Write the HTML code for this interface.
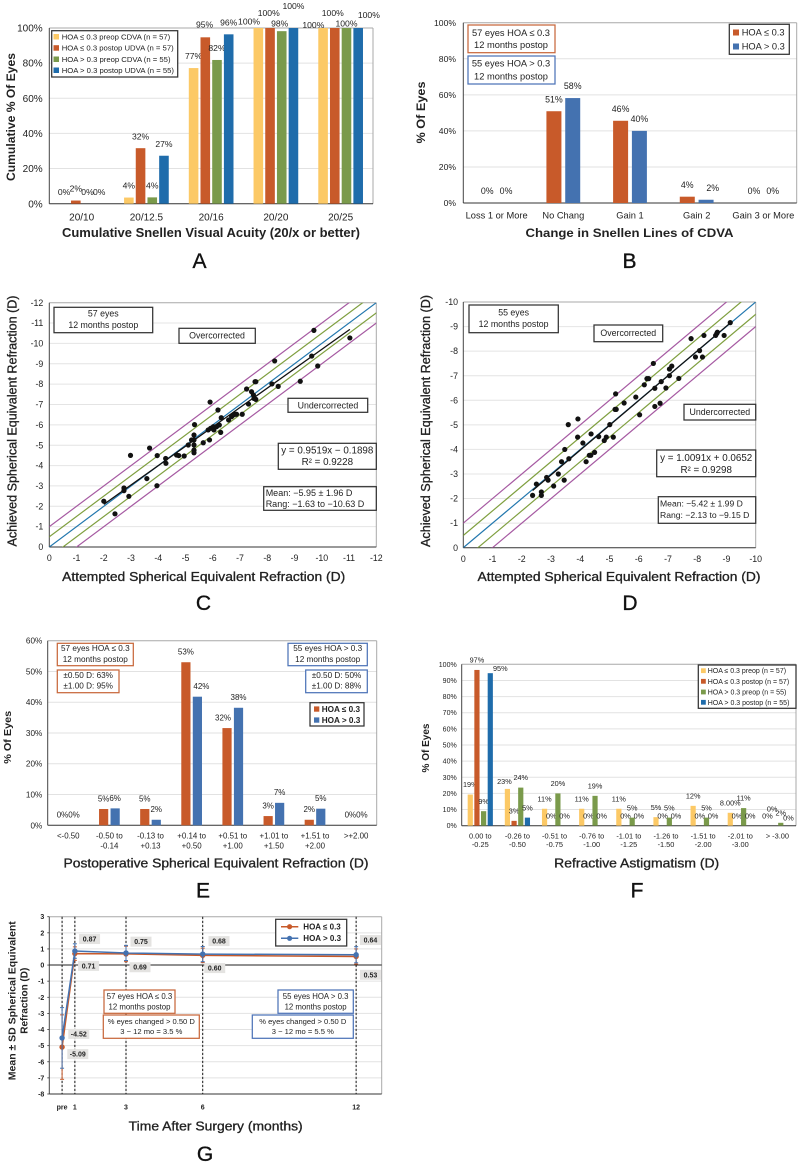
<!DOCTYPE html>
<html lang="en">
<head>
<meta charset="utf-8">
<title>Refractive outcomes by HOA group</title>
<style>
html,body{margin:0;padding:0;background:#fff}
svg{display:block;filter:blur(.3px)}
text{font-family:"Liberation Sans",sans-serif;fill:#222}
.bold{font-weight:700}
.mid{stroke:#222;stroke-width:.32}
.letter{font-size:21px;text-anchor:middle;stroke:#111;stroke-width:.35;fill:#111}
.mid-a{text-anchor:middle}
.box{fill:#fff;stroke-width:1.25}
.k{stroke:#333}.o{stroke:#c8683c}.b{stroke:#4e74b8}
</style>
</head>
<body>
<svg id="figure" xmlns="http://www.w3.org/2000/svg" width="800" height="1164" viewBox="0 0 800 1164">
  <rect width="800" height="1164" fill="#fff"/>

  <!-- A -->
  <g id="chart-a"></g>
  <g>
    <rect class="box k" x="51.7" y="30.7" width="126" height="46.3"/>
    <rect x="53.5" y="34" width="5.5" height="5.5" fill="#fcc966"/>
    <text x="61.7" y="39.4" font-size="7.7">HOA ≤ 0.3 preop CDVA (n = 57)</text>
    <rect x="53.5" y="45.2" width="5.5" height="5.5" fill="#c85a2a"/>
    <text x="61.7" y="50.7" font-size="7.7">HOA ≤ 0.3 postop UDVA (n = 57)</text>
    <rect x="53.5" y="56.5" width="5.5" height="5.5" fill="#7a9a4b"/>
    <text x="61.7" y="62" font-size="7.7">HOA &gt; 0.3 preop CDVA (n = 55)</text>
    <rect x="53.5" y="67.5" width="5.5" height="5.5" fill="#1f6cab"/>
    <text x="61.7" y="73" font-size="7.7">HOA &gt; 0.3 postop UDVA (n = 55)</text>
  </g>
  <text class="bold mid-a" x="211" y="237" font-size="12.5" textLength="298" lengthAdjust="spacingAndGlyphs">Cumulative Snellen Visual Acuity (20/x or better)</text>
  <text class="bold mid-a" transform="translate(15,117) rotate(-90)" font-size="12" textLength="128" lengthAdjust="spacingAndGlyphs">Cumulative % Of Eyes</text>
  <text class="letter" x="199.5" y="268">A</text>

  <!-- B -->
  <g id="chart-b"></g>
  <g>
    <rect class="box o" x="468" y="25" width="87" height="27.7"/>
    <text class="mid-a" x="511" y="36" font-size="9.3">57 eyes HOA ≤ 0.3</text>
    <text class="mid-a" x="511" y="48.2" font-size="9.3">12 months postop</text>
    <rect class="box b" x="468" y="56" width="87" height="28"/>
    <text class="mid-a" x="511" y="66.6" font-size="9.3">55 eyes HOA &gt; 0.3</text>
    <text class="mid-a" x="511" y="79.3" font-size="9.3">12 months postop</text>
    <rect class="box k" x="729.3" y="24.3" width="60" height="30"/>
    <rect x="733" y="29.5" width="6" height="6" fill="#c85a2a"/>
    <text x="741.7" y="35.6" font-size="9.3">HOA ≤ 0.3</text>
    <rect x="733" y="43.5" width="6" height="6" fill="#4472b0"/>
    <text x="741.7" y="49.6" font-size="9.3">HOA &gt; 0.3</text>
  </g>
  <text class="bold mid-a" x="629.5" y="237" font-size="12" textLength="208" lengthAdjust="spacingAndGlyphs">Change in Snellen Lines of CDVA</text>
  <text class="bold mid-a" transform="translate(425,112.5) rotate(-90)" font-size="12" textLength="62" lengthAdjust="spacingAndGlyphs">% Of Eyes</text>
  <text class="letter" x="629.5" y="268">B</text>

  <!-- C -->
  <g id="chart-c"></g>
  <g>
    <rect class="box k" x="54" y="307.3" width="98.7" height="25.4"/>
    <text class="mid-a" x="103.3" y="316.7" font-size="8.8">57 eyes</text>
    <text class="mid-a" x="103.3" y="328" font-size="8.8">12 months postop</text>
    <rect class="box k" x="179" y="328.3" width="76.3" height="15"/>
    <text class="mid-a" x="217" y="338.4" font-size="8.8">Overcorrected</text>
    <rect class="box k" x="288" y="398.3" width="79.7" height="14"/>
    <text class="mid-a" x="328" y="408.3" font-size="8.8">Undercorrected</text>
    <rect class="box k" x="278.3" y="443.3" width="98" height="26"/>
    <text class="mid-a" x="327.3" y="453.5" font-size="9.8">y = 0.9519x − 0.1898</text>
    <text class="mid-a" x="327.3" y="465.2" font-size="9.8">R² = 0.9228</text>
    <rect class="box k" x="263.7" y="486.7" width="112.6" height="23.6"/>
    <text x="265.7" y="496" font-size="9">Mean: −5.95 ± 1.96 D</text>
    <text x="265.7" y="507.2" font-size="9">Rang: −1.63 to −10.63 D</text>
  </g>
  <text class="mid mid-a" x="203.7" y="581" font-size="13" textLength="283" lengthAdjust="spacingAndGlyphs">Attempted Spherical Equivalent Refraction (D)</text>
  <text class="mid mid-a" transform="translate(16.5,421) rotate(-90)" font-size="13" textLength="251" lengthAdjust="spacingAndGlyphs">Achieved Spherical Equivalent Refraction (D)</text>
  <text class="letter" x="203.5" y="610">C</text>

  <!-- D -->
  <g id="chart-d"></g>
  <g>
    <rect class="box k" x="469" y="305" width="89.3" height="27.7"/>
    <text class="mid-a" x="513.6" y="315.7" font-size="8.8">55 eyes</text>
    <text class="mid-a" x="513.6" y="327" font-size="8.8">12 months postop</text>
    <rect class="box k" x="594" y="325" width="68.7" height="16.7"/>
    <text class="mid-a" x="628.3" y="335.8" font-size="8.8">Overcorrected</text>
    <rect class="box k" x="684" y="404.3" width="71.7" height="15.7"/>
    <text class="mid-a" x="719.8" y="414.8" font-size="8.8">Undercorrected</text>
    <rect class="box k" x="656.7" y="450" width="99" height="26.7"/>
    <text class="mid-a" x="706.2" y="461" font-size="9.8">y = 1.0091x + 0.0652</text>
    <text class="mid-a" x="706.2" y="472.8" font-size="9.8">R² = 0.9298</text>
    <rect class="box k" x="658.3" y="496.7" width="97.4" height="26.6"/>
    <text x="660" y="506.5" font-size="8.6">Mean: −5.42 ± 1.99 D</text>
    <text x="660" y="518.2" font-size="8.6">Rang: −2.13 to −9.15 D</text>
  </g>
  <text class="mid mid-a" x="619" y="581" font-size="13" textLength="283" lengthAdjust="spacingAndGlyphs">Attempted Spherical Equivalent Refraction (D)</text>
  <text class="mid mid-a" transform="translate(429.8,421) rotate(-90)" font-size="13" textLength="252" lengthAdjust="spacingAndGlyphs">Achieved Spherical Equivalent Refraction (D)</text>
  <text class="letter" x="630" y="610">D</text>

  <!-- E -->
  <g id="chart-e"></g>
  <g>
    <rect class="box o" x="57.3" y="643.3" width="76" height="22.4"/>
    <text class="mid-a" x="95.3" y="651.2" font-size="8.2">57 eyes HOA ≤ 0.3</text>
    <text class="mid-a" x="95.3" y="661.9" font-size="8.2">12 months postop</text>
    <rect class="box o" x="57.3" y="670" width="61.7" height="22.7"/>
    <text class="mid-a" x="88.2" y="677.9" font-size="8.2">±0.50 D: 63%</text>
    <text class="mid-a" x="88.2" y="688.6" font-size="8.2">±1.00 D: 95%</text>
    <rect class="box b" x="288" y="643.3" width="79.3" height="22.4"/>
    <text class="mid-a" x="327.7" y="651.2" font-size="8.2">55 eyes HOA &gt; 0.3</text>
    <text class="mid-a" x="327.7" y="661.9" font-size="8.2">12 months postop</text>
    <rect class="box b" x="305.7" y="670" width="61.6" height="22.7"/>
    <text class="mid-a" x="336.5" y="677.9" font-size="8.2">±0.50 D: 50%</text>
    <text class="mid-a" x="336.5" y="688.6" font-size="8.2">±1.00 D: 88%</text>
    <rect class="box k" x="310" y="702.7" width="54" height="23.3"/>
    <rect x="314" y="706.4" width="5.3" height="5.3" fill="#c85a2a"/>
    <text class="bold" x="321.7" y="712" font-size="8.2">HOA ≤ 0.3</text>
    <rect x="314" y="717.4" width="5.3" height="5.3" fill="#4472b0"/>
    <text class="bold" x="321.7" y="723" font-size="8.2">HOA &gt; 0.3</text>
  </g>
  <text class="mid mid-a" x="216" y="867.3" font-size="13" textLength="305" lengthAdjust="spacingAndGlyphs">Postoperative Spherical Equivalent Refraction (D)</text>
  <text class="bold mid-a" transform="translate(11,737.3) rotate(-90)" font-size="10.5" textLength="53" lengthAdjust="spacingAndGlyphs">% Of Eyes</text>
  <text class="letter" x="203" y="897.5">E</text>

  <!-- F -->
  <g id="chart-f"></g>
  <g>
    <rect class="box k" x="698.3" y="665" width="97.7" height="43.3"/>
    <rect x="701" y="668.3" width="4.8" height="4.8" fill="#fcc966"/>
    <text x="707.7" y="673.2" font-size="7">HOA ≤ 0.3 preop (n = 57)</text>
    <rect x="701" y="678.9" width="4.8" height="4.8" fill="#c85a2a"/>
    <text x="707.7" y="683.8" font-size="7">HOA ≤ 0.3 postop (n = 57)</text>
    <rect x="701" y="689.6" width="4.8" height="4.8" fill="#7a9a4b"/>
    <text x="707.7" y="694.5" font-size="7">HOA &gt; 0.3 preop (n = 55)</text>
    <rect x="701" y="699.9" width="4.8" height="4.8" fill="#1f6cab"/>
    <text x="707.7" y="704.8" font-size="7">HOA &gt; 0.3 postop (n = 55)</text>
  </g>
  <text class="mid mid-a" x="636.7" y="867.3" font-size="13" textLength="165" lengthAdjust="spacingAndGlyphs">Refractive Astigmatism (D)</text>
  <text class="bold mid-a" transform="translate(428.8,748) rotate(-90)" font-size="10" textLength="49" lengthAdjust="spacingAndGlyphs">% Of Eyes</text>
  <text class="letter" x="637" y="897.5">F</text>

  <!-- G -->
  <g id="chart-g"></g>
  <g>
    <rect class="box k" x="275.7" y="919.3" width="71" height="26.7"/>
    <line x1="281" y1="926.7" x2="298.3" y2="926.7" stroke="#c85a2a" stroke-width="1.5"/>
    <circle cx="289.6" cy="926.7" r="2.6" fill="#c85a2a"/>
    <text class="bold" x="303.3" y="929.6" font-size="8">HOA ≤ 0.3</text>
    <line x1="281" y1="938.3" x2="298.3" y2="938.3" stroke="#4472b0" stroke-width="1.5"/>
    <circle cx="289.6" cy="938.3" r="2.6" fill="#4472b0"/>
    <text class="bold" x="303.3" y="941.2" font-size="8">HOA &gt; 0.3</text>
    <rect class="box o" x="104" y="990" width="71" height="23.3"/>
    <text class="mid-a" x="139.5" y="998.9" font-size="7.8">57 eyes HOA ≤ 0.3</text>
    <text class="mid-a" x="139.5" y="1009.5" font-size="7.8">12 months postop</text>
    <rect class="box o" x="103.3" y="1015" width="96" height="23.3"/>
    <text class="mid-a" x="151.3" y="1023.8" font-size="7.6">% eyes changed &gt; 0.50 D</text>
    <text class="mid-a" x="151.3" y="1033.8" font-size="7.6">3 − 12 mo = 3.5 %</text>
    <rect class="box b" x="278" y="990" width="75.3" height="23.3"/>
    <text class="mid-a" x="315.6" y="998.9" font-size="7.8">55 eyes HOA &gt; 0.3</text>
    <text class="mid-a" x="315.6" y="1009.5" font-size="7.8">12 months postop</text>
    <rect class="box b" x="252.3" y="1015" width="101" height="23.3"/>
    <text class="mid-a" x="302.8" y="1023.8" font-size="7.6">% eyes changed &gt; 0.50 D</text>
    <text class="mid-a" x="302.8" y="1033.8" font-size="7.6">3 − 12 mo = 5.5 %</text>
  </g>
  <text class="mid mid-a" x="215.7" y="1130.7" font-size="13" textLength="174" lengthAdjust="spacingAndGlyphs">Time After Surgery (months)</text>
  <text class="bold mid-a" transform="translate(15.5,1000.7) rotate(-90)" font-size="10" textLength="159" lengthAdjust="spacingAndGlyphs">Mean ± SD Spherical Equivalent</text>
  <text class="bold mid-a" transform="translate(27.5,1000.7) rotate(-90)" font-size="10" textLength="66" lengthAdjust="spacingAndGlyphs">Refraction (D)</text>
  <text class="letter" x="205" y="1161">G</text>
</svg>

<script>
// ---------- Chart A data ----------
const acuityCategories = ['20/10', '20/12.5', '20/16', '20/20', '20/25'];
const acuityLowPreop = [0, 3.5, 77.2, 100, 100];
const acuityLowPostop = [1.8, 31.6, 94.7, 100, 100];
const acuityHighPreop = [0, 3.6, 81.8, 98.2, 100];
const acuityHighPostop = [0, 27.3, 96.4, 100, 100];
const acuityTicks = [0, 20, 40, 60, 80, 100];

// ---------- Chart B data ----------
const linesCategories = ['Loss 1 or More', 'No Chang', 'Gain 1', 'Gain 2', 'Gain 3 or More'];
const linesLow = [0, 50.9, 45.6, 3.5, 0];
const linesHigh = [0, 58.2, 40, 1.8, 0];
const linesTicks = [0, 20, 40, 60, 80, 100];

// ---------- Chart C data (attempted / achieved, D) ----------
const attemptedC = [-2.0,-2.41,-2.74,-2.74,-2.92,-2.98,-3.58,-3.68,-3.95,-3.96,-4.27,-4.28,-4.67,-4.75,-4.95,-5.10,-5.22,-5.31,-5.31,-5.31,-5.31,-5.31,-5.33,-5.65,-5.83,-5.88,-5.90,-5.92,-6.02,-6.04,-6.14,-6.19,-6.24,-6.29,-6.31,-6.58,-6.69,-6.75,-6.81,-6.87,-7.08,-7.24,-7.31,-7.42,-7.49,-7.51,-7.55,-7.58,-7.58,-8.17,-8.27,-8.40,-9.21,-9.63,-9.71,-9.85,-11.03];
const achievedC = [-2.25,-1.63,-2.77,-2.90,-2.49,-4.50,-3.36,-4.86,-3.01,-4.49,-4.35,-4.11,-4.52,-4.49,-4.47,-5.01,-5.26,-5.26,-5.50,-5.01,-4.76,-4.63,-6.01,-5.12,-5.75,-5.26,-7.12,-5.83,-5.91,-5.75,-5.91,-6.73,-5.99,-5.63,-6.35,-6.24,-6.40,-6.48,-6.52,-6.52,-6.52,-7.76,-7.02,-7.63,-7.47,-7.30,-8.12,-8.12,-7.25,-8.01,-9.14,-7.89,-8.14,-9.38,-10.64,-8.89,-10.27];
const fitC = [0.9519, -0.1898];
const axisTicksC = [0,-1,-2,-3,-4,-5,-6,-7,-8,-9,-10,-11,-12];

// ---------- Chart D data ----------
const attemptedD = [-2.37,-2.50,-2.67,-2.67,-2.85,-2.90,-3.09,-3.25,-3.36,-3.45,-3.47,-3.61,-3.59,-3.91,-3.92,-4.09,-4.20,-4.31,-4.36,-4.37,-4.49,-4.63,-4.82,-4.89,-5.01,-5.13,-5.19,-5.23,-5.21,-5.50,-5.90,-6.03,-6.19,-6.28,-6.34,-6.55,-6.55,-6.50,-6.73,-6.77,-6.93,-7.05,-7.05,-7.13,-7.37,-7.79,-7.94,-8.08,-8.18,-8.23,-8.63,-8.67,-8.69,-8.92,-9.13];
const achievedD = [-2.13,-2.59,-2.27,-2.13,-2.86,-2.75,-2.51,-3.00,-3.50,-2.75,-4.00,-3.62,-5.01,-4.50,-5.24,-4.26,-3.50,-3.76,-3.76,-4.63,-3.88,-4.52,-4.36,-4.50,-5.01,-4.50,-5.63,-5.63,-6.26,-5.89,-6.13,-5.41,-6.63,-6.88,-6.88,-6.49,-5.75,-7.50,-5.88,-6.76,-6.50,-7.00,-7.27,-7.39,-6.89,-8.51,-7.76,-8.02,-7.76,-8.64,-8.64,-8.72,-8.77,-8.64,-9.16];
const fitD = [1.0091, 0.0652];
const axisTicksD = [0,-1,-2,-3,-4,-5,-6,-7,-8,-9,-10];

// ---------- Chart E data ----------
const seCategories = ['<-0.50', '-0.50 to|-0.14', '-0.13 to|+0.13', '+0.14 to|+0.50', '+0.51 to|+1.00', '+1.01 to|+1.50', '+1.51 to|+2.00', '>+2.00'];
const seLow = [0, 5.3, 5.3, 53, 31.6, 3, 1.8, 0];
const seHigh = [0, 5.5, 1.8, 41.8, 38.2, 7.3, 5.4, 0];
const seTicks = [0, 10, 20, 30, 40, 50, 60];

// ---------- Chart F data ----------
const astigCategories = ['0.00 to|-0.25', '-0.26 to|-0.50', '-0.51 to|-0.75', '-0.76 to|-1.00', '-1.01 to|-1.25', '-1.26 to|-1.50', '-1.51 to|-2.00', '-2.01 to|-3.00', '> -3.00'];
const astigLowPreop = [19.3, 22.8, 10.5, 10.5, 10.5, 5.3, 12.3, 8, 0];
const astigLowPostop = [96.5, 3, 0, 0, 0, 0, 0, 0, 0];
const astigHighPreop = [9, 23.6, 20, 18.5, 5, 5, 5, 10.9, 1.8];
const astigHighPostop = [94.5, 5, 0, 0, 0, 0, 0, 0, 0];
const astigLowPreopPrinted = ['19%', '23%', '11%', '11%', '11%', '5%', '12%', '8.00%', '0%'];
const astigTicks = [0, 10, 20, 30, 40, 50, 60, 70, 80, 90, 100];

// ---------- Chart G data ----------
const visitMonths = [0.5, 1, 3, 6, 12];
const visitLabels = ['pre', '1', '3', '6', '12'];
const meanLow = [-5.09, 0.71, 0.69, 0.60, 0.53];
const meanHigh = [-4.52, 0.87, 0.75, 0.68, 0.64];
const sdLow = [2.0, 0.42, 0.48, 0.45, 0.47];
const sdHigh = [1.88, 0.45, 0.47, 0.47, 0.5];
const refractionTicks = [3, 2, 1, 0, -1, -2, -3, -4, -5, -6, -7, -8];

// ---------- Drawing ----------
const NS = 'http://www.w3.org/2000/svg';
const COL = {yellow:'#fcc966', orange:'#c85a2a', green:'#7a9a4b', blueA:'#1f6cab', blueB:'#4472b0'};

function add(parent, tag, attrs, name, content) {
  const el = document.createElementNS(NS, tag);
  for (const k in attrs) el.setAttribute(k, attrs[k]);
  
  
  if (content !== undefined) el.textContent = content;
  parent.appendChild(el);
  return el;
}

function frame(g, p, suffix) {
  add(g, 'line', {x1:p.l, y1:p.t, x2:p.r, y2:p.t, stroke:'#a8a8a8', 'stroke-width':1}, 'plot-top-border-' + suffix);
  add(g, 'line', {x1:p.r, y1:p.t, x2:p.r, y2:p.b, stroke:'#a8a8a8', 'stroke-width':1}, 'plot-right-border-' + suffix);
  add(g, 'line', {x1:p.l, y1:p.t, x2:p.l, y2:p.b, stroke:'#444', 'stroke-width':1}, 'y-axis-line-' + suffix);
  add(g, 'line', {x1:p.l, y1:p.b, x2:p.r, y2:p.b, stroke:'#333', 'stroke-width':1}, 'x-axis-line-' + suffix);
}

function drawBars(c) {
  const g = document.getElementById(c.id), p = c.plot;
  const yScale = v => p.b - v / c.max * (p.b - p.t);
  const groupW = (p.r - p.l) / c.categories.length;
  const xScale = i => p.l + groupW * (i + 0.5);
  c.ticks.forEach(t => {
    if (t > 0 && t < c.max) add(g, 'line', {x1:p.l, y1:yScale(t), x2:p.r, y2:yScale(t), stroke:'#e2e2e2', 'stroke-width':1}, 'gridline-' + t);
    add(g, 'text', {x:c.tickX, y:yScale(t) + c.tickSize * 0.36, 'font-size':c.tickSize, 'text-anchor':'end'}, 'y-tick-label-' + t, t + '%');
  });
  frame(g, p, c.suffix);
  const n = c.series.length;
  c.series.forEach((s, si) => {
    s.values.forEach((v, i) => {
      const cx = xScale(i) + (si - (n - 1) / 2) * c.pitch;
      if (v > 0) {
        add(g, 'rect', {x:cx - c.barW / 2, y:yScale(v), width:c.barW, height:p.b - yScale(v), fill:s.color}, 'bar-' + s.key + '-' + i);
      }
      const nudge = c.nudges[si + ',' + i] || [0, 0];
      const label = s.printed ? s.printed[i] : Math.round(v) + '%';
      add(g, 'text', {x:cx + nudge[0], y:yScale(v) - c.labelGap + c.labelSize * 0.36 + nudge[1], 'font-size':c.labelSize, 'text-anchor':'middle'}, 'value-label-' + s.key + '-' + i, label);
    });
  });
  c.categories.forEach((cat, i) => {
    cat.split('|').forEach((line, li) => {
      add(g, 'text', {x:xScale(i), y:c.catY + li * c.catLead, 'font-size':c.catSize, 'text-anchor':'middle'}, 'category-label-' + i + '-' + li, line);
    });
  });
}

function drawScatter(c) {
  const g = document.getElementById(c.id), p = c.plot;
  const x = v => p.l + (-v) / c.max * (p.r - p.l);
  const y = v => p.b - (-v) / c.max * (p.b - p.t);
  const clipId = 'clip-' + c.suffix;
  const defs = add(g, 'defs', {}, 'clip-defs-' + c.suffix);
  const clip = add(defs, 'clipPath', {id:clipId}, 'plot-clip-' + c.suffix);
  add(clip, 'rect', {x:p.l, y:p.t, width:p.r - p.l, height:p.b - p.t}, 'plot-clip-rect-' + c.suffix);
  c.ticks.forEach(t => {
    if (t !== 0 && t !== -c.max) add(g, 'line', {x1:p.l, y1:y(t), x2:p.r, y2:y(t), stroke:'#e4e4e4', 'stroke-width':1}, 'gridline-' + t);
    add(g, 'text', {x:c.tickRight, y:y(t) + 3.1, 'font-size':8.8, 'text-anchor':'end'}, 'y-tick-label' + t, String(t));
    add(g, 'text', {x:x(t), y:p.b + 14.2, 'font-size':8.8, 'text-anchor':'middle'}, 'x-tick-label' + t, String(t));
  });
  frame(g, p, c.suffix);
  const refs = [[1, '#a65aa2', 'purple-upper'], [-1, '#a65aa2', 'purple-lower'], [0.5, '#7f9f3f', 'green-upper'], [-0.5, '#7f9f3f', 'green-lower'], [0, '#2277ae', 'identity']];
  const hi = -c.max - 3;
  refs.forEach(r => {
    add(g, 'line', {x1:x(2), y1:y(2 - r[0]), x2:x(hi), y2:y(hi - r[0]), stroke:r[1], 'stroke-width':1.2, 'clip-path':'url(#' + clipId + ')'}, 'reference-line-' + r[2]);
  });
  const x0 = Math.max.apply(null, c.xs), x1 = Math.min.apply(null, c.xs);
  add(g, 'line', {x1:x(x0), y1:y(c.fit[0] * x0 + c.fit[1]), x2:x(x1), y2:y(c.fit[0] * x1 + c.fit[1]), stroke:'#111', 'stroke-width':1.3}, 'trend-line-' + c.suffix);
  c.xs.forEach((v, i) => {
    add(g, 'circle', {cx:x(v), cy:y(c.ys[i]), r:2.6, fill:'#111'}, 'eye-point-' + i);
  });
}

function drawLineChart() {
  const g = document.getElementById('chart-g');
  const p = {l:49.3, r:381.7, t:916.7, b:1094};
  const x = m => p.l + m / 13 * (p.r - p.l);
  const y = v => p.b - (v + 8) / 11 * (p.b - p.t);
  refractionTicks.forEach(t => {
    if (t !== 3 && t !== -8 && t !== 0) add(g, 'line', {x1:p.l, y1:y(t), x2:p.r, y2:y(t), stroke:'#e2e2e2', 'stroke-width':1}, 'gridline' + t);
    add(g, 'line', {x1:p.l - 2, y1:y(t), x2:p.l, y2:y(t), stroke:'#333', 'stroke-width':0.8}, 'y-tick' + t);
    add(g, 'text', {x:44.3, y:y(t) + 2.5, 'font-size':7, 'font-weight':700, 'text-anchor':'end'}, 'y-tick-label' + t, String(t));
  });
  frame(g, p, 'g');
  add(g, 'line', {x1:p.l, y1:y(0), x2:p.r, y2:y(0), stroke:'#222', 'stroke-width':1}, 'zero-line');
  visitMonths.forEach((m, i) => {
    add(g, 'line', {x1:x(m), y1:p.t, x2:x(m), y2:p.b, stroke:'#111', 'stroke-width':1, 'stroke-dasharray':'2.4 1.6'}, 'visit-guide-' + visitLabels[i]);
    add(g, 'text', {x:x(m), y:1109.5, 'font-size':7, 'font-weight':700, 'text-anchor':'middle'}, 'x-tick-label-' + visitLabels[i], visitLabels[i]);
  });
  // Manually placed value chips, relative to each point
  const chipShiftHigh = [[16.7, -4], [14.7, -12], [15, -11.3], [16.3, -13], [14.3, -14.7]];
  const chipShiftLow = [[15.7, 7], [13.7, 12.3], [14, 13.3], [12, 12.7], [14.3, 18.3]];
  const series = [
    {key:'low', means:meanLow, sds:sdLow, color:COL.orange, shift:chipShiftLow},
    {key:'high', means:meanHigh, sds:sdHigh, color:COL.blueB, shift:chipShiftHigh}
  ];
  series.forEach(s => {
    s.means.forEach((v, i) => {
      const cx = x(visitMonths[i]);
      add(g, 'line', {x1:cx, y1:y(v + s.sds[i]), x2:cx, y2:y(v - s.sds[i]), stroke:s.color, 'stroke-width':1}, 'error-bar-' + s.key + '-' + i);
      [v + s.sds[i], v - s.sds[i]].forEach((e, k) => {
        add(g, 'line', {x1:cx - 2, y1:y(e), x2:cx + 2, y2:y(e), stroke:s.color, 'stroke-width':1}, 'error-cap-' + s.key + '-' + i + '-' + k);
      });
    });
    const pts = s.means.map((v, i) => x(visitMonths[i]) + ',' + y(v)).join(' ');
    add(g, 'polyline', {points:pts, fill:'none', stroke:s.color, 'stroke-width':1.5}, 'line-' + s.key);
    s.means.forEach((v, i) => {
      add(g, 'circle', {cx:x(visitMonths[i]), cy:y(v), r:2.7, fill:s.color}, 'point-' + s.key + '-' + i);
    });
  });
  series.forEach(s => {
    s.means.forEach((v, i) => {
      const lx = x(visitMonths[i]) + s.shift[i][0], ly = y(v) + s.shift[i][1];
      add(g, 'rect', {x:lx - 10.5, y:ly - 5, width:21, height:10, fill:'#e4e3e1'}, 'value-chip-' + s.key + '-' + i);
      add(g, 'text', {x:lx, y:ly + 2.5, 'font-size':7, 'font-weight':700, 'text-anchor':'middle'}, 'value-label-' + s.key + '-' + i, v.toFixed(2));
    });
  });
}

drawBars({
  id:'chart-a', suffix:'a', plot:{l:49.3, r:373, t:28, b:203.7}, max:100, ticks:acuityTicks, categories:acuityCategories,
  series:[
    {key:'low-preop', values:acuityLowPreop, color:COL.yellow},
    {key:'low-postop', values:acuityLowPostop, color:COL.orange},
    {key:'high-preop', values:acuityHighPreop, color:COL.green},
    {key:'high-postop', values:acuityHighPostop, color:COL.blueA}
  ],
  barW:9.6, pitch:11.7, tickX:42.7, tickSize:10, labelSize:8.6, labelGap:12, catSize:10, catY:220.3, catLead:0,
  nudges:{'0,3':[-9.3,5.3], '1,3':[-1.3,-3.3], '2,3':[-2,4.3], '3,3':[0,-10], '0,4':[-9.7,8.7], '1,4':[-2,-3.3], '2,4':[0,7.3], '3,4':[10.7,-1.3], '1,2':[-0.7,-1]}
});

drawBars({
  id:'chart-b', suffix:'b', plot:{l:463.3, r:796.7, t:22.7, b:203}, max:100, ticks:linesTicks, categories:linesCategories,
  series:[
    {key:'low', values:linesLow, color:COL.orange},
    {key:'high', values:linesHigh, color:COL.blueB}
  ],
  barW:15, pitch:18.8, tickX:456, tickSize:8.6, labelSize:8.8, labelGap:12, catSize:9.3, catY:218.6, catLead:0,
  nudges:{'1,3':[6.7,0]}
});

drawScatter({id:'chart-c', suffix:'c', plot:{l:49.3, r:376.3, t:302.7, b:547}, max:12, ticks:axisTicksC, xs:attemptedC, ys:achievedC, fit:fitC, tickRight:43.3});
drawScatter({id:'chart-d', suffix:'d', plot:{l:463.3, r:755.7, t:302, b:547.7}, max:10, ticks:axisTicksD, xs:attemptedD, ys:achievedD, fit:fitD, tickRight:458});

drawBars({
  id:'chart-e', suffix:'e', plot:{l:47.7, r:376.7, t:640.7, b:825.3}, max:60, ticks:seTicks, categories:seCategories,
  series:[
    {key:'low', values:seLow, color:COL.orange},
    {key:'high', values:seHigh, color:COL.blueB}
  ],
  barW:9.2, pitch:11.5, tickX:42.3, tickSize:8.2, labelSize:8, labelGap:10.5, catSize:7.9, catY:838.6, catLead:9.7,
  nudges:{'1,3':[4,0], '0,4':[-4,0]}
});

drawBars({
  id:'chart-f', suffix:'f', plot:{l:461.7, r:796, t:664.3, b:825.7}, max:100, ticks:astigTicks, categories:astigCategories,
  series:[
    {key:'low-preop', values:astigLowPreop, color:COL.yellow, printed:astigLowPreopPrinted},
    {key:'low-postop', values:astigLowPostop, color:COL.orange},
    {key:'high-preop', values:astigHighPreop, color:COL.green},
    {key:'high-postop', values:astigHighPostop, color:COL.blueA}
  ],
  barW:5.2, pitch:6.67, tickX:456.7, tickSize:7, labelSize:7.3, labelGap:10, catSize:7.4, catY:838.4, catLead:8.4,
  nudges:{'3,0':[10,5], '0,1':[-3,2.5], '1,8':[-2,-7], '3,8':[1,2]}
});

drawLineChart();
</script>
</body>
</html>
